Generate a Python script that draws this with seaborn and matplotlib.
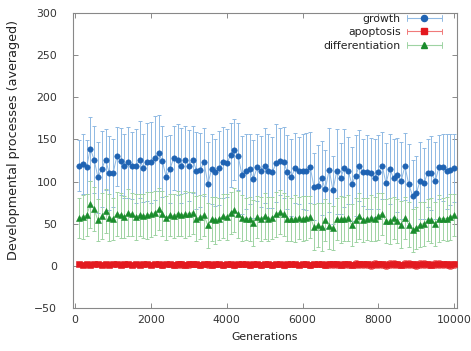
import matplotlib
matplotlib.use("Agg")
import matplotlib.pyplot as plt
from matplotlib.legend_handler import HandlerLine2D
from matplotlib.lines import Line2D
import numpy as np
import pandas as pd
import seaborn as sns

# ---------------- data ----------------
generations = list(range(100, 10001, 100))

growth = [119, 121, 117, 139, 126, 105, 115, 126, 110, 110, 130, 124, 119, 123, 119, 118, 126, 116, 123, 123, 128, 134, 124, 106,
          115, 128, 126, 119, 126, 119, 126, 113, 114, 123, 97, 115, 111, 116, 123, 122, 131, 138, 130, 108, 112, 115, 103, 117, 112, 119,
          113, 111, 122, 124, 123, 111, 105, 116, 113, 112, 112, 117, 94, 95, 104, 91, 114, 90, 112, 104, 116, 113, 97, 107, 119,
          111, 111, 110, 104, 111, 119, 98, 115, 104, 108, 101, 118, 97, 83, 86, 101, 98, 110, 110, 101, 117, 117, 112, 114, 116]
growth_err = [30, 36, 32, 38, 40, 42, 45, 36, 44, 40, 35, 40, 38, 42, 40, 44, 46, 40, 46, 48, 50, 45, 42, 48,
              40, 38, 42, 44, 40, 42, 40, 46, 44, 40, 50, 42, 40, 44, 42, 40, 38, 36, 40, 46, 44, 42, 46, 40, 42, 44,
              44, 42, 46, 40, 42, 44, 46, 42, 40, 44, 46, 42, 40, 48, 44, 46, 50, 40, 50, 42, 46, 40, 44, 48, 42,
              40, 44, 42, 46, 44, 40, 48, 42, 46, 44, 46, 40, 48, 42, 44, 46, 42, 40, 44, 46, 38, 40, 44, 42, 40]

apoptosis = [2, 1, 2, 1, 2, 2, 1, 2, 1, 2, 2, 1, 2, 2, 1, 2, 1, 2, 2, 1, 2, 2, 1, 2,
             2, 1, 2, 2, 1, 2, 2, 2, 1, 2, 2, 1, 2, 2, 1, 2, 2, 1, 2, 2, 2, 1, 2, 2, 1, 2,
             2, 1, 2, 2, 1, 2, 2, 2, 1, 2, 2, 1, 2, 2, 2, 1, 2, 2, 2, 1, 2, 2, 1, 2, 2,
             2, 2, 1, 2, 2, 2, 1, 2, 2, 2, 1, 2, 2, 2, 1, 2, 2, 2, 1, 2, 2, 2, 2, 1, 2]
apoptosis_err = [2, 2, 2, 2, 2, 2, 2, 2, 2, 2, 2, 2, 3, 2, 2, 2, 2, 2, 2, 2, 2, 2, 3, 2,
                 3, 3, 4, 4, 3, 4, 3, 3, 3, 3, 4, 3, 3, 3, 3, 3, 3, 3, 3, 3, 3, 3, 3, 3, 3, 3,
                 3, 3, 3, 3, 3, 3, 3, 3, 2, 2, 3, 3, 3, 3, 3, 3, 4, 4, 4, 4, 4, 4, 4, 5, 4,
                 4, 4, 5, 5, 4, 4, 5, 5, 5, 4, 4, 5, 5, 4, 5, 5, 5, 4, 4, 5, 5, 4, 4, 5, 4]

differentiation = [57, 58, 60, 73, 67, 54, 59, 65, 57, 56, 62, 60, 58, 63, 61, 58, 60, 59, 60, 61, 63, 67, 62, 57,
                   60, 59, 62, 60, 61, 62, 63, 56, 58, 60, 48, 56, 54, 56, 59, 58, 63, 66, 61, 57, 56, 56, 51, 58, 56, 59,
                   56, 57, 61, 64, 61, 56, 55, 56, 57, 56, 57, 58, 46, 48, 46, 54, 47, 45, 56, 55, 56, 57, 48, 54, 59,
                   54, 56, 57, 56, 59, 62, 53, 53, 57, 53, 49, 57, 49, 42, 45, 49, 50, 54, 54, 50, 56, 56, 56, 58, 60]
differentiation_err = [24, 26, 25, 28, 26, 25, 27, 26, 28, 25, 26, 27, 25, 28, 26, 27, 25, 26, 28, 27, 26, 25, 27, 26,
                       25, 26, 27, 25, 28, 26, 25, 27, 26, 25, 27, 26, 28, 25, 26, 27, 25, 26, 28, 27, 25, 26, 27, 25, 26, 27,
                       26, 25, 27, 26, 25, 27, 26, 28, 25, 27, 26, 25, 27, 26, 28, 25, 27, 26, 25, 28, 26, 27, 25, 26, 27,
                       26, 25, 27, 26, 28, 25, 26, 27, 25, 26, 28, 25, 27, 26, 25, 27, 26, 25, 27, 26, 28, 25, 26, 27, 25]

series_names = ["growth", "apoptosis", "differentiation"]

# ---------------- styling ----------------
sns.set_theme(style="white")
plt.rcParams["font.family"] = ["DejaVu Sans"]

styles = {
    "growth": dict(marker="o", mc="#1f63b3", lc="#8fb9e3", line="#8fb9e3", lw=0.7, ms=3.9),
    "apoptosis": dict(marker="s", mc="#e3191f", lc="#f07a7a", line="#e3191f", lw=3.2, ms=4.4),
    "differentiation": dict(marker="^", mc="#1a8c2c", lc="#9ed3a3", line="#9ed3a3", lw=0.7, ms=4.6),
}
values = {"growth": (growth, growth_err),
          "apoptosis": (apoptosis, apoptosis_err),
          "differentiation": (differentiation, differentiation_err)}

fig = plt.figure(figsize=(4.71, 3.51), dpi=100)
ax = fig.add_axes([0.154, 0.1225, 0.816, 0.8405])

for name in series_names:
    y, e = values[name]
    st = styles[name]
    df = pd.DataFrame({"Generations": generations, "value": y, "err": e})
    ax.errorbar(df["Generations"], df["value"], yerr=df["err"], fmt="none",
                ecolor=st["lc"], elinewidth=0.7, capsize=1.6, capthick=0.7, zorder=2)
    sns.lineplot(data=df, x="Generations", y="value", ax=ax, color=st["line"],
                 linewidth=st["lw"], marker=st["marker"], markersize=st["ms"],
                 markerfacecolor=st["mc"], markeredgecolor=st["mc"],
                 markeredgewidth=0.4, legend=False, zorder=3)


class CapHandler(HandlerLine2D):
    def create_artists(self, legend, orig_handle, xdescent, ydescent,
                       width, height, fontsize, trans):
        arts = super().create_artists(legend, orig_handle, xdescent, ydescent,
                                      width, height, fontsize, trans)
        yc = height / 2 - ydescent
        for xx in (-xdescent, -xdescent + width):
            cap = Line2D([xx, xx], [yc - 2.0, yc + 2.0], color=orig_handle.get_color(),
                         lw=0.7, transform=trans)
            arts.append(cap)
        return arts


handles = []
for name in series_names:
    st = styles[name]
    handles.append(Line2D([], [], color=st["lc"], lw=0.8, marker=st["marker"],
                          markersize=4.4, markerfacecolor=st["mc"],
                          markeredgecolor=st["mc"]))
leg = ax.legend(handles, series_names, loc="upper right", frameon=False,
                bbox_to_anchor=(0.972, 1.012), borderaxespad=0.0,
                markerfirst=False, numpoints=1, fontsize=7.8, handlelength=3.2,
                handletextpad=0.6, labelspacing=0.32,
                handler_map={Line2D: CapHandler()})
for t in leg.get_texts():
    t.set_color("#222222")

ax.set_xlim(-70, 10070)
ax.set_ylim(-50, 300)
ax.set_xticks([0, 2000, 4000, 6000, 8000, 10000])
ax.set_yticks([-50, 0, 50, 100, 150, 200, 250, 300])
ax.set_xlabel("Generations", fontsize=7.8, color="#222222", labelpad=5)
ax.set_ylabel("Developmental processes (averaged)", fontsize=9.2, color="#222222")
ax.yaxis.set_label_coords(-0.136, 0.57)
ax.tick_params(direction="in", length=3.5, width=0.6, color="#777777",
               labelsize=7.8, labelcolor="#333333", top=True, right=True,
               bottom=True, left=True)
ax.tick_params(axis="y", pad=11)
ax.tick_params(axis="x", pad=5)
for sp in ax.spines.values():
    sp.set_color("#888888")
    sp.set_linewidth(0.8)

fig.savefig("out.png", dpi=100)
